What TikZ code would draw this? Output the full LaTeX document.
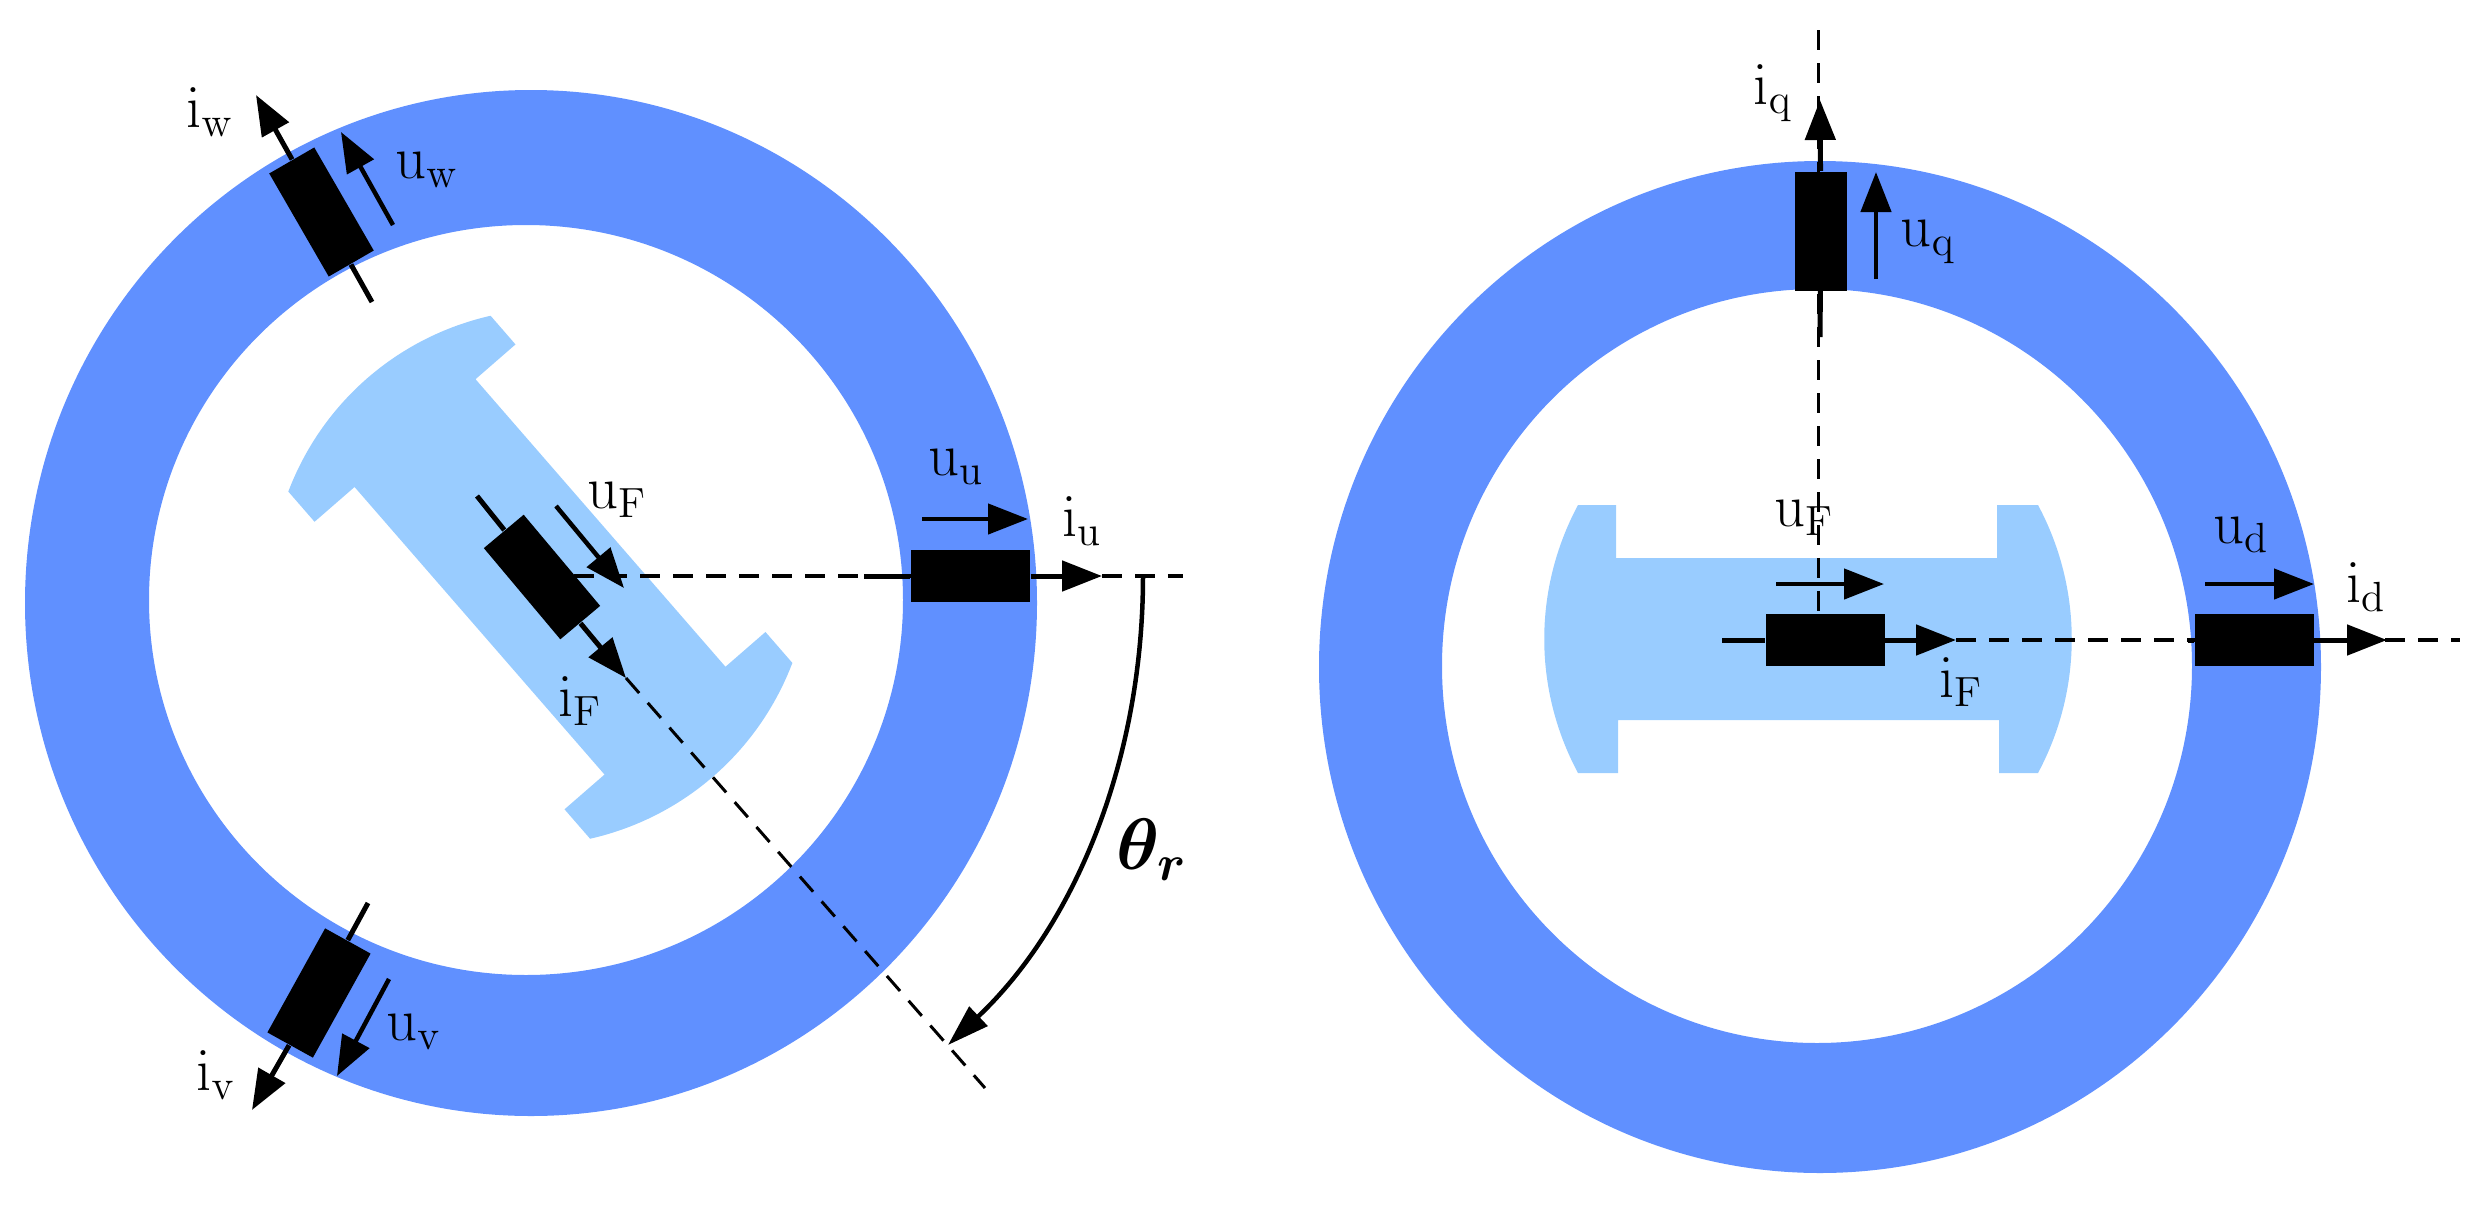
\documentclass[tikz,border=0pt]{standalone}
\usepackage{amsmath}
\usepackage{amssymb}
\usepackage{tikz}
\usetikzlibrary{arrows.meta, positioning}
\usepackage{xcolor}
\definecolor{mystator}{RGB}{96, 144, 255}
\definecolor{myrotor}{RGB}{153, 204, 255}
\newcommand{\rotorshape}{(-231,-134) -- (-193,-134) -- (-193,-81) -- (188,-81) -- (188,-134) -- (229,-134)
    .. controls (274,-50) and (274,50) .. (229,134) -- (190,134) -- (190,81) -- (-191,81) -- (-191,134) -- (-231,134)
    .. controls (-276,50) and (-276,-50) .. (-231,-134) -- cycle}

\begin{document}
\begin{tikzpicture}[
            x=0.1mm,
            y=-0.1mm,
            coil/.style={
                rectangle,
                fill=black,
                inner sep=0pt,
                minimum width=11.9mm,
                minimum height=5.2mm
            },
            wire/.style={line width=0.5mm},
            lead/.style={line width=0.5mm, -{Triangle[length=4mm,width=3mm]}},
            volt/.style={line width=0.45mm, -{Triangle[length=4mm,width=3mm]}},
            axis/.style={line width=0.4mm, dash pattern=on 2mm off 1.3mm},
            lab/.style={font=\LARGE, inner sep=0pt}
        ]
            \useasboundingbox (0,0) rectangle (2479,1205);

            % Stators
            \fill[mystator, even odd rule] (531,603) ellipse (506 and 513) (526,600) ellipse (377 and 375);
            \fill[mystator, even odd rule] (1820,667) ellipse (501 and 506) (1817,666) ellipse (375 and 377);

            % Rotors
            \begin{scope}[shift={(541,578)}, rotate=-49]
                \fill[myrotor] \rotorshape;
            \end{scope}
            \begin{scope}[shift={(1809,639)}]
                \fill[myrotor] \rotorshape;
            \end{scope}

            % Coordinates
            \coordinate (uin) at (864,576);
            \coordinate (uout) at (1102,576);
            \coordinate (vin) at (368,903);
            \coordinate (vout) at (252,1110);
            \coordinate (win) at (372,302);
            \coordinate (wout) at (256,95);
            \coordinate (fin) at (477,496);
            \coordinate (fout) at (626,678);
            \coordinate (dfin) at (1722,640);
            \coordinate (dfout) at (1956,640);
            \coordinate (din) at (2188,640);
            \coordinate (dout) at (2387,640);
            \coordinate (qin) at (1820,337);
            \coordinate (qout) at (1820,100);
            \coordinate (thstart) at (1143,576);
            \coordinate (thend) at (948,1045);

            % Axes
            \draw[axis] (574,576) -- (1183,576);
            \draw[axis, line width=0.3mm] (fout) -- (985,1088);
            \draw[axis] (dfout) -- (2460,640);
            \draw[axis, line width=0.3mm] (1818,30) -- (1818,614);

            % Nodes
            \node[coil] (coilu) at (970.5,576) {};
            \node[coil, rotate=-60] (coilw) at (321.5,212) {};
            \node[coil, rotate=61] (coilv) at (319,993) {};
            \node[coil, rotate=-50] (coilf) at (542,577) {};
            \node[coil] (coilff) at (1825,640) {};
            \node[coil] (coild) at (2254,640) {};
            \node[coil, rotate=90] (coilq) at (1821,231) {};

            \node[lab] (labuu) at (956,467) {$\mathrm{u_u}$};
            \node[lab] (labiu) at (1082,521) {$\mathrm{i_u}$};
            \node[lab] (labuw) at (427,170) {$\mathrm{u_w}$};
            \node[lab] (labiw) at (210,112) {$\mathrm{i_w}$};
            \node[lab] (labuv) at (414,1032) {$\mathrm{u_v}$};
            \node[lab] (labiv) at (216,1075) {$\mathrm{i_v}$};
            \node[lab] (labuf) at (617,500) {$\mathrm{u_F}$};
            \node[lab] (labif) at (580,701) {$\mathrm{i_F}$};
            \node[lab] (labuff) at (1804,518) {$\mathrm{u_F}$};
            \node[lab] (labiff) at (1961,682) {$\mathrm{i_F}$};
            \node[lab] (labud) at (2241,535) {$\mathrm{u_d}$};
            \node[lab] (labid) at (2366,587) {$\mathrm{i_d}$};
            \node[lab] (labuq) at (1928,242) {$\mathrm{u_q}$};
            \node[lab] (labiq) at (1773,93) {$\mathrm{i_q}$};
            \node[lab, font=\huge] (labth) at (1152,850) {$\boldsymbol{\theta_r}$};

            % Arrows
            \draw[wire] (uin) -- (coilu);
            \draw[lead] (coilu) -- (uout);
            \draw[wire] (win) -- (coilw);
            \draw[lead] (coilw) -- (wout);
            \draw[wire] (vin) -- (coilv);
            \draw[lead] (coilv) -- (vout);
            \draw[wire] (fin) -- (coilf);
            \draw[lead] (coilf) -- (fout);
            \draw[wire] (dfin) -- (coilff);
            \draw[lead] (coilff) -- (dfout);
            \draw[wire] (din) -- (coild);
            \draw[lead] (coild) -- (dout);
            \draw[wire] (qin) -- (coilq);
            \draw[lead] (coilq) -- (qout);

            \coordinate (uua) at (922,519);
            \coordinate (uub) at (1028,519);
            \draw[volt] (uua) -- (uub);
            \coordinate (uwa) at (393,225);
            \coordinate (uwb) at (341,132);
            \draw[volt] (uwa) -- (uwb);
            \coordinate (uva) at (389,979);
            \coordinate (uvb) at (337,1076);
            \draw[volt] (uva) -- (uvb);
            \coordinate (ufa) at (556,506);
            \coordinate (ufb) at (624,588);
            \draw[volt] (ufa) -- (ufb);
            \coordinate (uffa) at (1776,584);
            \coordinate (uffb) at (1884,584);
            \draw[volt] (uffa) -- (uffb);
            \coordinate (uda) at (2205,584);
            \coordinate (udb) at (2314,584);
            \draw[volt] (uda) -- (udb);
            \coordinate (uqa) at (1876,279);
            \coordinate (uqb) at (1876,172);
            \draw[volt] (uqa) -- (uqb);

            \draw[line width=0.45mm, -{Triangle[length=4.2mm,width=2.6mm]}] (thstart) .. controls (1143,760) and (1075,925) .. (thend);
        \end{tikzpicture}
\end{document}
